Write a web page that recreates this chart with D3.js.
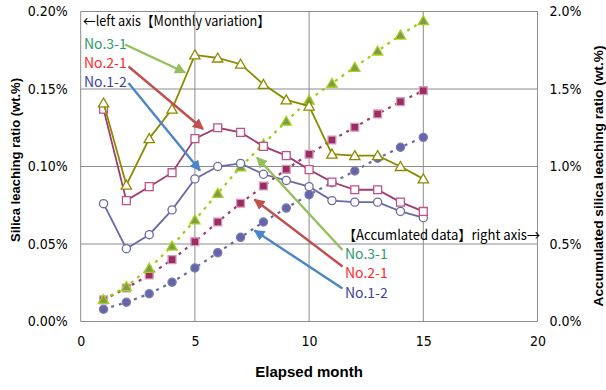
<!DOCTYPE html>
<html>
<head>
<meta charset="utf-8">
<script src="https://cdn.jsdelivr.net/npm/d3@7"></script>
<style>
  html, body { margin: 0; padding: 0; background: #fff; }
  svg { display: block; }
</style>
</head>
<body>
<svg id="chart" width="606" height="390"></svg>
<script>
// Elapsed months
const months = [1, 2, 3, 4, 5, 6, 7, 8, 9, 10, 11, 12, 13, 14, 15];

// Monthly silica leaching ratio (wt.%) – left axis
const monthly31 = [0.141, 0.088, 0.118, 0.137, 0.172, 0.170, 0.166, 0.153, 0.143, 0.139, 0.108, 0.107, 0.107, 0.100, 0.092];
const monthly21 = [0.137, 0.078, 0.087, 0.096, 0.118, 0.125, 0.122, 0.113, 0.107, 0.098, 0.090, 0.085, 0.085, 0.077, 0.071];
const monthly12 = [0.076, 0.047, 0.056, 0.072, 0.092, 0.100, 0.102, 0.095, 0.091, 0.087, 0.078, 0.077, 0.077, 0.071, 0.067];

// Accumulated silica leaching ratio (wt.%) – right axis
const accum31 = [0.142, 0.225, 0.343, 0.487, 0.655, 0.827, 0.997, 1.145, 1.292, 1.429, 1.537, 1.640, 1.745, 1.848, 1.941];
const accum21 = [0.139, 0.216, 0.300, 0.399, 0.515, 0.642, 0.763, 0.874, 0.982, 1.079, 1.171, 1.253, 1.339, 1.418, 1.489];
const accum12 = [0.079, 0.124, 0.179, 0.253, 0.345, 0.444, 0.543, 0.642, 0.732, 0.818, 0.895, 0.971, 1.053, 1.124, 1.188];

// Axis ticks
const xTicks = [0, 5, 10, 15, 20];
const leftTicks = [0, 0.05, 0.10, 0.15, 0.20];
const rightTicks = [0, 0.5, 1.0, 1.5, 2.0];

const svg = d3.select("#chart");
const plot = { left: 80.7, right: 537.5, top: 11.5, bottom: 321.5 };

const x = d3.scaleLinear().domain([0, 20]).range([plot.left, plot.right]);
const yL = d3.scaleLinear().domain([0, 0.20]).range([plot.bottom, plot.top]);
const yR = d3.scaleLinear().domain([0, 2.0]).range([plot.bottom, plot.top]);

const gridColor = "#8c8c8c";
const tickFont = "'Liberation Sans Narrow', 'Arial Narrow', 'DejaVu Sans Condensed', sans-serif";
const titleFont = "'Liberation Sans', Arial, sans-serif";
const noteFont = "'Noto Sans CJK JP', 'Noto Sans', sans-serif";

// Gridlines
const grid = svg.append("g");
grid.selectAll("line.h").data(leftTicks).join("line")
  .attr("x1", plot.left).attr("x2", plot.right)
  .attr("y1", d => yL(d)).attr("y2", d => yL(d))
  .attr("stroke", gridColor).attr("stroke-width", 1);
grid.selectAll("line.v").data(xTicks).join("line")
  .attr("y1", plot.top).attr("y2", plot.bottom)
  .attr("x1", d => x(d)).attr("x2", d => x(d))
  .attr("stroke", gridColor).attr("stroke-width", 1);

// Axes (labels only, lines come from the grid)
const axisStyle = g => {
  g.select(".domain").remove();
  g.selectAll(".tick line").remove();
  g.selectAll("text").attr("font-family", tickFont).attr("font-size", 14).attr("fill", "#000");
};
svg.append("g").attr("transform", `translate(${plot.left},0)`)
  .call(d3.axisLeft(yL).tickValues(leftTicks).tickSize(0).tickPadding(13)
    .tickFormat(d => d3.format(".2f")(d) + "%"))
  .call(axisStyle);
svg.append("g").attr("transform", `translate(${plot.right},0)`)
  .call(d3.axisRight(yR).tickValues(rightTicks).tickSize(0).tickPadding(12)
    .tickFormat(d => d3.format(".1f")(d) + "%"))
  .call(axisStyle);
svg.append("g").attr("transform", `translate(0,${plot.bottom})`)
  .call(d3.axisBottom(x).tickValues(xTicks).tickSize(0).tickPadding(15)
    .tickFormat(d3.format("d")))
  .call(axisStyle);

// Axis titles
svg.append("text").attr("x", x(10)).attr("y", 377)
  .attr("text-anchor", "middle").attr("font-family", titleFont)
  .attr("font-weight", "bold").attr("font-size", 15).text("Elapsed month");
svg.append("text").attr("transform", "translate(20,160) rotate(-90)")
  .attr("text-anchor", "middle").attr("font-family", titleFont)
  .attr("font-weight", "bold").attr("font-size", 13).text("Silica leaching ratio (wt.%)");
svg.append("text").attr("transform", "translate(603,176) rotate(-90)")
  .attr("text-anchor", "middle").attr("font-family", titleFont)
  .attr("font-weight", "bold").attr("font-size", 13.7).text("Accumulated silica leaching ratio (wt.%)");

// Series definitions
const series = [
  { id: "s31m", values: monthly31, scale: yL, line: "#8b8b00", marker: "tri", fill: "#fff", mstroke: "#8b8b00", dash: null },
  { id: "s21m", values: monthly21, scale: yL, line: "#a23a6e", marker: "sq", fill: "#fff", mstroke: "#c0508a", dash: null },
  { id: "s12m", values: monthly12, scale: yL, line: "#6a6aaa", marker: "circ", fill: "#fff", mstroke: "#6a6aaa", dash: null },
  { id: "s31a", values: accum31, scale: yR, line: "#9acd10", marker: "tri", fill: "#7f9a4a", mstroke: "#a6d21c", dash: "3,5" },
  { id: "s21a", values: accum21, scale: yR, line: "#a23a6e", marker: "sq", fill: "#9b2d62", mstroke: "#d79ab8", dash: "3,5" },
  { id: "s12a", values: accum12, scale: yR, line: "#6a6aaa", marker: "circ", fill: "#6666a6", mstroke: "#7a7ab6", dash: "3,5" }
];

const drawOrder = ["s12a", "s21a", "s31a", "s12m", "s21m", "s31m"];
const symbolFor = {
  tri: d3.symbol().type(d3.symbolTriangle).size(46),
  sq: d3.symbol().type(d3.symbolSquare).size(62),
  circ: d3.symbol().type(d3.symbolCircle).size(52)
};

drawOrder.forEach(id => {
  const s = series.find(e => e.id === id);
  const pts = months.map((m, i) => [m, s.values[i]]);
  const g = svg.append("g");
  g.append("path")
    .attr("d", d3.line().x(d => x(d[0])).y(d => s.scale(d[1]))(pts))
    .attr("fill", "none").attr("stroke", s.line)
    .attr("stroke-width", s.dash ? 2.2 : 1.8)
    .attr("stroke-dasharray", s.dash);
  g.selectAll("path.m").data(pts).join("path")
    .attr("class", "m")
    .attr("transform", d => `translate(${x(d[0])},${s.scale(d[1]) + (s.marker === "tri" ? 1 : 0)})`)
    .attr("d", symbolFor[s.marker]())
    .attr("fill", s.fill).attr("stroke", s.mstroke).attr("stroke-width", 1.3);
});

// Annotations and pointer arrows
const defs = svg.append("defs");
const arrowColors = { green: "#93c05a", red: "#c0504d", blue: "#4a86c8" };
Object.entries(arrowColors).forEach(([k, c]) => {
  defs.append("marker").attr("id", "ah-" + k)
    .attr("viewBox", "0 0 10 10").attr("refX", 9).attr("refY", 5)
    .attr("markerWidth", 4.6).attr("markerHeight", 4.6).attr("orient", "auto")
    .attr("markerUnits", "strokeWidth")
    .append("path").attr("d", "M0,0 L10,5 L0,10 Z").attr("fill", c);
});

const arrows = [
  { c: "green", from: [125, 44.5], to: [185, 72.5] },
  { c: "red", from: [128.5, 66.5], to: [203, 129] },
  { c: "blue", from: [128.5, 83], to: [200, 170.5] },
  { c: "green", from: [342.5, 250], to: [257, 157.5] },
  { c: "red", from: [342.5, 266.5], to: [254.5, 199.5] },
  { c: "blue", from: [342.5, 288.5], to: [254.5, 230.5] }
];
svg.append("g").selectAll("line").data(arrows).join("line")
  .attr("x1", d => d.from[0]).attr("y1", d => d.from[1])
  .attr("x2", d => d.to[0]).attr("y2", d => d.to[1])
  .attr("stroke", d => arrowColors[d.c]).attr("stroke-width", 2.4)
  .attr("marker-end", d => `url(#ah-${d.c})`);

const notes = [
  { t: "←left axis【Monthly variation】", x: 83, y: 26, c: "#000", w: 187 },
  { t: "No.3-1", x: 84, y: 49, c: "#2e9a6c" },
  { t: "No.2-1", x: 84, y: 68, c: "#ff2a2a" },
  { t: "No.1-2", x: 84, y: 87, c: "#3f3f9f" },
  { t: "【Accumlated data】right axis→", x: 343, y: 240, c: "#000", w: 197 },
  { t: "No.3-1", x: 345, y: 259, c: "#2e9a6c" },
  { t: "No.2-1", x: 345, y: 278, c: "#ff2a2a" },
  { t: "No.1-2", x: 345, y: 298, c: "#3f3f9f" }
];
svg.append("g").selectAll("text").data(notes).join("text")
  .attr("x", d => d.x).attr("y", d => d.y).attr("fill", d => d.c)
  .attr("font-family", noteFont).attr("font-size", 14)
  .attr("textLength", d => d.w || null)
  .attr("lengthAdjust", d => d.w ? "spacingAndGlyphs" : null)
  .text(d => d.t);
</script>
</body>
</html>
